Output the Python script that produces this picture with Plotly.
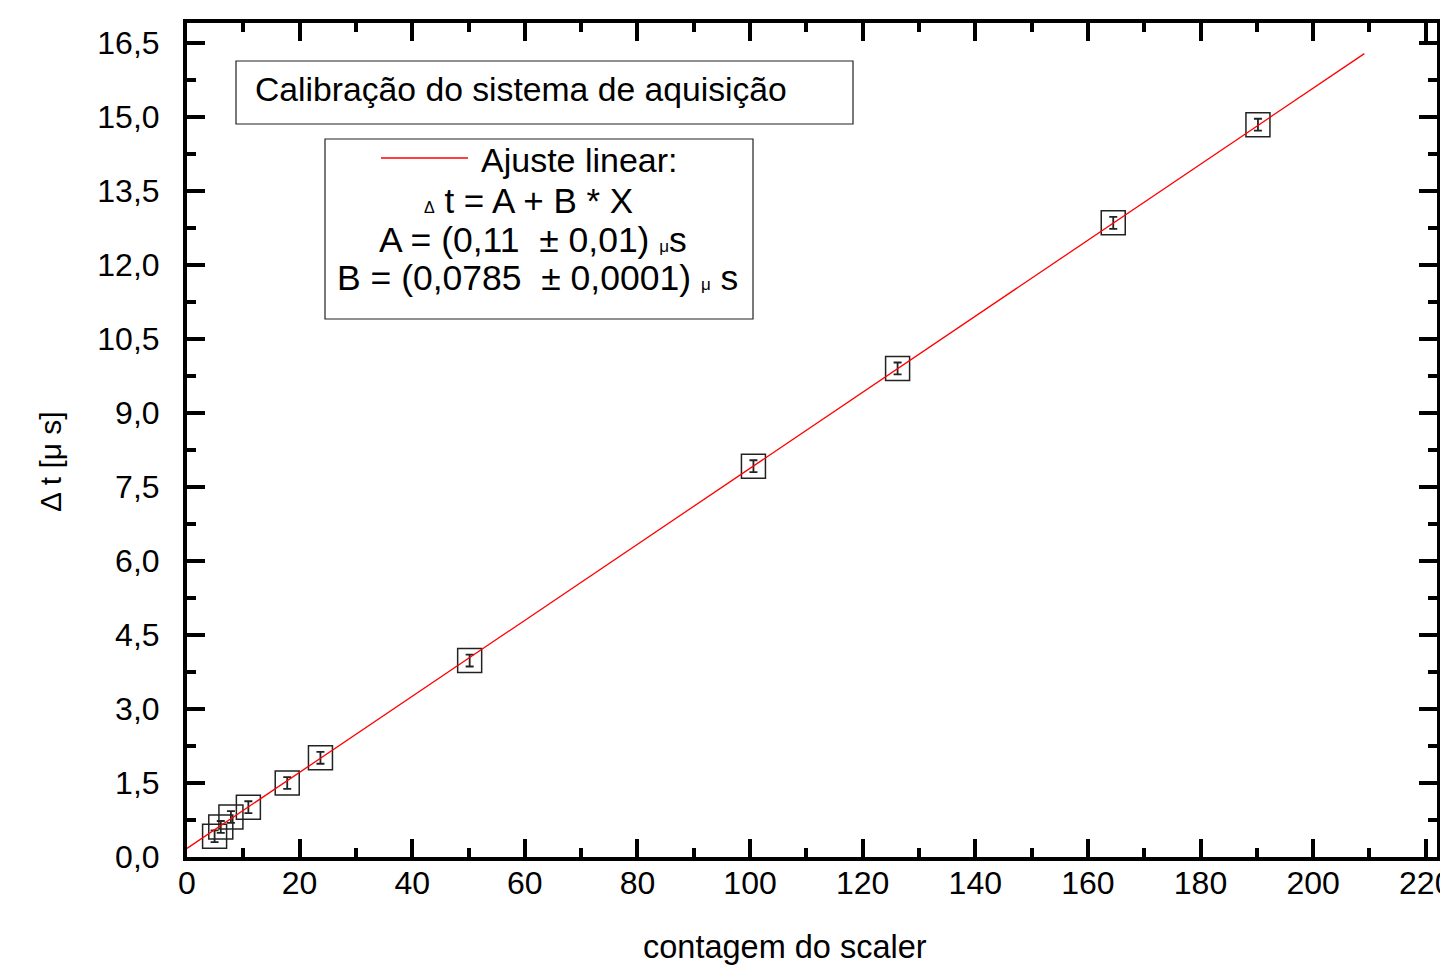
import plotly.graph_objects as go

# ---- data ----
counts = [4.9, 6.0, 7.8, 10.9, 17.8, 23.7, 50.2, 100.6, 126.2, 164.5, 190.2]
delta_t = [0.42, 0.61, 0.81, 1.01, 1.50, 2.01, 3.98, 7.92, 9.90, 12.85, 14.84]
err_y = [0.12] * len(counts)

fit_x = [0.0, 209.1]
fit_y = [0.175, 16.28]

x_ticks = [0, 20, 40, 60, 80, 100, 120, 140, 160, 180, 200, 220]
y_ticks = [0.0, 1.5, 3.0, 4.5, 6.0, 7.5, 9.0, 10.5, 12.0, 13.5, 15.0, 16.5]
y_ticktext = ["0,0", "1,5", "3,0", "4,5", "6,0", "7,5", "9,0", "10,5", "12,0", "13,5", "15,0", "16,5"]

W, H = 1440, 971
L, R, T, B = 187, 3, 23, 114
PW, PH = W - L - R, H - T - B
FONT = "Liberation Sans, Arial, sans-serif"


def px(x):
    return (x - L) / PW


def py(y):
    return (H - B - y) / PH


fig = go.Figure()

fig.add_trace(go.Scatter(
    x=counts, y=delta_t, mode="markers",
    marker=dict(symbol="square-open", size=24, color="#222", line=dict(width=1.5)),
    error_y=dict(type="data", array=err_y, visible=True, color="#222", thickness=1.8, width=4),
    showlegend=False, cliponaxis=False,
))
fig.add_trace(go.Scatter(
    x=fit_x, y=fit_y, mode="lines",
    line=dict(color="#ff0000", width=1.3),
    showlegend=False,
))

axis_common = dict(
    showline=True, linewidth=4, linecolor="black", mirror="allticks",
    ticks="inside", ticklen=18, tickwidth=4, tickcolor="black",
    showgrid=False, zeroline=False,
    tickfont=dict(family=FONT, size=32, color="black"),
    ticklabeloverflow="allow",
    automargin=False,
)

fig.update_xaxes(
    range=[0, 222], tickvals=x_ticks,
    minor=dict(ticks="inside", ticklen=9, tickwidth=4, tickcolor="black", dtick=10, tick0=0, showgrid=False),
    ticklabelstandoff=-5,
    **axis_common,
)
fig.update_yaxes(
    range=[0, 16.9], tickvals=y_ticks, ticktext=y_ticktext,
    minor=dict(ticks="inside", ticklen=9, tickwidth=4, tickcolor="black", dtick=0.75, tick0=0, showgrid=False),
    ticklabelstandoff=17,
    **axis_common,
)

annotations = [
    dict(text="contagem do scaler", x=px(785), y=py(947), font=dict(size=32.5)),
    dict(text="Δ t [μ s]", x=px(50), y=py(462), textangle=-90, font=dict(size=30)),
    dict(text="Calibração do sistema de aquisição", x=px(253), y=py(89), xanchor="left", font=dict(size=33.7)),
    dict(text="Ajuste linear:", x=px(479), y=py(160), xanchor="left", font=dict(size=34)),
    dict(text="<span style='font-size:16px'>Δ</span> t = A + B * X", x=px(528), y=py(200), font=dict(size=35)),
    dict(text="A = (0,11\u00a0 ± 0,01) <span style='font-size:17px'>μ</span>s", x=px(533), y=py(240), font=dict(size=35.5)),
    dict(text="B = (0,0785\u00a0 ± 0,0001) <span style='font-size:17px'>μ</span> s", x=px(537), y=py(278), font=dict(size=35.5)),
]
for a in annotations:
    a.setdefault("xanchor", "center")
    a.update(xref="paper", yref="paper", yanchor="middle", showarrow=False)
    a["font"] = dict(family=FONT, color="black", **a["font"])

shapes = [
    dict(type="rect", x0=px(236), x1=px(853), y0=py(61), y1=py(124), line=dict(color="#222", width=1.2)),
    dict(type="rect", x0=px(325), x1=px(753), y0=py(139), y1=py(319), line=dict(color="#222", width=1.2)),
    dict(type="line", x0=px(381), x1=px(468), y0=py(158), y1=py(158), line=dict(color="#ff0000", width=1.3)),
]
for s in shapes:
    s.update(xref="paper", yref="paper")

fig.update_layout(
    width=W, height=H,
    margin=dict(l=L, r=R, t=T, b=B, pad=0, autoexpand=False),
    paper_bgcolor="white", plot_bgcolor="white",
    annotations=annotations, shapes=shapes,
    separators=",.",
    font=dict(family=FONT, color="black"),
)

fig.write_html(
    "out.html",
    config={"displayModeBar": False},
    post_script="document.body.style.margin='0';document.body.style.overflow='hidden';",
)
